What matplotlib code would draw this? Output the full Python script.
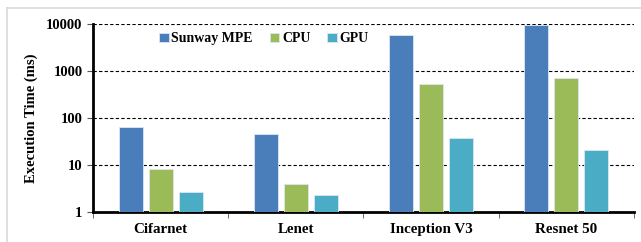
import numpy as np
import matplotlib.pyplot as plt
from matplotlib.lines import Line2D

models = ['Cifarnet', 'Lenet', 'Inception V3', 'Resnet 50']
series = ['Sunway MPE', 'CPU', 'GPU']
mpe = [64, 46, 5850, 9500]
cpu = [8.2, 4.0, 530, 710]
gpu = [2.7, 2.3, 37, 21]
colors = ['#4a7ebb', '#9bbb59', '#4bacc6']

plt.rcParams['font.family'] = ['Liberation Serif', 'DejaVu Serif']
plt.rcParams['font.weight'] = 'bold'

fig = plt.figure(figsize=(6.41, 2.42), dpi=100)
ax = fig.add_axes([0.145, 0.124, 0.844, 0.777])

# light grey frame on the left and top
fig.add_artist(Line2D([0.011, 0.011], [0, 0.967], color='#d9d9d9', lw=1.2))
fig.add_artist(Line2D([0.011, 1], [0.967, 0.967], color='#d9d9d9', lw=1.2))

ax.set_yscale('log')
x = np.arange(len(models))
w = 0.177
step = 0.222
for k, vals in enumerate([mpe, cpu, gpu]):
    ax.bar(x + (k - 1) * step, vals, width=w, color=colors[k],
           edgecolor='#dce6f2', linewidth=0.6, label=series[k], zorder=3)

ax.set_ylim(1, 10000)
ax.set_xlim(-0.5, 3.5)
ax.set_yticks([1, 10, 100, 1000, 10000])
ax.set_yticklabels(['1', '10', '100', '1000', '10000'])
ax.minorticks_off()
ax.yaxis.grid(True, linestyle=(0, (3, 2)), color='black', lw=0.8, zorder=0)

ax.set_xticks(x)
ax.set_xticklabels(models)
ax.tick_params(axis='x', length=0, pad=8, labelsize=10.8)
ax.set_xticks(np.arange(-0.5, 4.0, 1.0), minor=True)
ax.tick_params(axis='x', which='minor', length=4, direction='out', color='#555555')
ax.tick_params(axis='y', length=4, direction='out', labelsize=10.5, color='#555555')

for s in ['top', 'right']:
    ax.spines[s].set_visible(False)
ax.spines['left'].set_linewidth(2)
ax.spines['bottom'].set_linewidth(2)

ax.set_ylabel('Execution Time (ms)', fontsize=10.5, fontweight='bold', labelpad=6)

leg = ax.legend(loc='upper center', bbox_to_anchor=(0.316, 1.0), ncol=3, frameon=False,
                handlelength=0.7, handleheight=0.7, handletextpad=0.2,
                columnspacing=1.2, borderaxespad=0.2,
                prop={'weight': 'bold', 'size': 10})
leg.set_zorder(5)

fig.savefig('out.png', dpi=100)
